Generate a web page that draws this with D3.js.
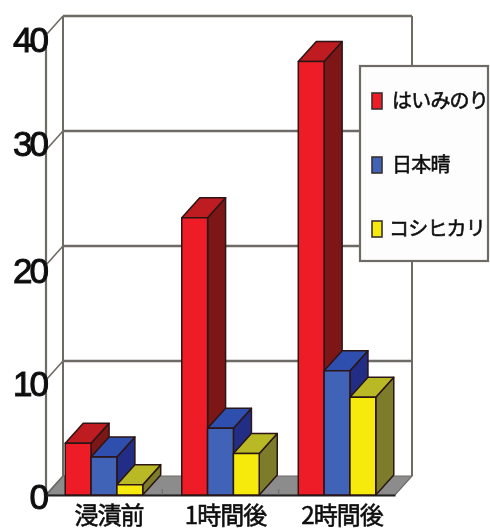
<!DOCTYPE html>
<html><head><meta charset="utf-8">
<script src="https://cdn.jsdelivr.net/npm/d3@7"></script>
<style>
html,body{margin:0;padding:0;background:#fff;overflow:hidden}
svg{display:block}
text{font-family:"Noto Sans CJK JP","Liberation Sans",sans-serif;fill:#111}
</style></head><body>
<svg id="c" width="490" height="531"></svg>
<script>
const categories = ["浸漬前","1時間後","2時間後"];
const seriesNames = ["はいみのり","日本晴","コシヒカリ"];
const hayami = [4.5, 24.1, 37.7];
const nipponbare = [3.3, 5.8, 10.8];
const koshihikari = [0.9, 3.6, 8.5];
const yTicks = [0,10,20,30,40];
const values = [hayami, nipponbare, koshihikari];
const front = ["#ee1c25","#3f63b8","#f6ea10"];
const topC = ["#bf1a20","#2f50ad","#b9b928"];
const side = ["#7d1315","#232f85","#7b7b2a"];

const svg = d3.select("#c");
const soft = svg.append("defs").append("filter").attr("id","soft")
  .attr("x","-5%").attr("y","-5%").attr("width","110%").attr("height","110%");
soft.append("feGaussianBlur").attr("stdDeviation",0.7);
const root = svg.append("g").attr("filter","url(#soft)");

const dx = 17, dy = -19, bx = 18, by = -20;
const x = d3.scaleBand().domain(categories).range([46,395]).paddingInner(0.335).paddingOuter(0.165);
const xs = d3.scaleBand().domain(d3.range(3)).range([0,x.bandwidth()]);
const y = d3.scaleLinear().domain([0,40]).range([495,35]);
const line = "#6e6a66";

// floor
root.append("polygon")
  .attr("points",[[x.range()[0],y(0)],[x.range()[0]+dx,y(0)+dy],[x.range()[1]+dx,y(0)+dy],[x.range()[1],y(0)]].join(" "))
  .attr("fill","#8c8c8c").attr("stroke",line).attr("stroke-width",1.2);

// walls and gridlines
yTicks.forEach(t=>{
  if(t>0) root.append("line").attr("x1",46+dx).attr("x2",395+dx).attr("y1",y(t)+dy).attr("y2",y(t)+dy).attr("stroke",line).attr("stroke-width",2.4);
  root.append("line").attr("x1",46).attr("x2",46+dx).attr("y1",y(t)).attr("y2",y(t)+dy).attr("stroke",line).attr("stroke-width",1.6);
});
root.append("line").attr("x1",46+dx).attr("x2",46+dx).attr("y1",y(40)+dy).attr("y2",y(0)+dy).attr("stroke",line).attr("stroke-width",2);
root.append("line").attr("x1",395+dx).attr("x2",395+dx).attr("y1",y(40)+dy).attr("y2",y(0)+dy).attr("stroke",line).attr("stroke-width",2);
root.append("line").attr("x1",46).attr("x2",46).attr("y1",y(40)).attr("y2",y(0)).attr("stroke",line).attr("stroke-width",2.2);

// axes
const ay = root.append("g").attr("transform","translate(46,0)")
  .call(d3.axisLeft(y).tickValues(yTicks).tickSize(0).tickPadding(0));
ay.select(".domain").remove();
ay.selectAll("text").style("font-family","'Liberation Sans'").attr("font-size",35)
  .attr("letter-spacing",-3).attr("stroke","#111").attr("stroke-width",1)
  .attr("dy",d=>({0:"0.39em",10:"0.44em",20:"0.5em",30:"0.16em",40:"0.47em"}[d]));

const ax = root.append("g").attr("transform","translate(0,495)")
  .call(d3.axisBottom(x).tickSize(0).tickPadding(12));
ax.select(".domain").attr("stroke","#222").attr("stroke-width",2);
ax.selectAll("text").attr("font-size",24).attr("letter-spacing",-1).attr("dx",5)
  .attr("stroke","#111").attr("stroke-width",0.6);
root.selectAll(".sep").data(categories.slice(1)).join("line").attr("class","sep")
  .attr("x1",d=>x(d)-x.step()*0.1675).attr("x2",d=>x(d)-x.step()*0.1675)
  .attr("y1",489).attr("y2",495).attr("stroke",line).attr("stroke-width",1);

// bars
const applyO = s => s.attr("stroke","#2a1414").attr("stroke-width",1.5).attr("stroke-linejoin","round");
categories.forEach((cat,ci)=>{
  values.forEach((vals,si)=>{
    const l = x(cat)+xs(si), r = l+xs.bandwidth(), t = y(vals[ci]), b = y(0);
    applyO(root.append("polygon").attr("points",[[r,t],[r+bx,t+by],[r+bx,b+by],[r,b]].join(" ")).attr("fill",side[si]));
    applyO(root.append("polygon").attr("points",[[l,t],[l+bx,t+by],[r+bx,t+by],[r,t]].join(" ")).attr("fill",topC[si]));
    applyO(root.append("rect").attr("x",l).attr("y",t).attr("width",r-l).attr("height",b-t).attr("fill",front[si]));
  });
});

// legend
root.append("rect").attr("x",360).attr("y",66).attr("width",128).attr("height",195)
  .attr("fill","#fdfdfe").attr("stroke",line).attr("stroke-width",2.2);
const legY = d3.scalePoint().domain(seriesNames).range([101,229]);
const lg = root.selectAll(".lg").data(seriesNames).join("g").attr("class","lg")
  .attr("transform",d=>`translate(0,${legY(d)})`);
lg.append("rect").attr("x",372).attr("y",-8).attr("width",10).attr("height",16)
  .attr("fill",(d,i)=>front[i]).attr("stroke","#3a3030").attr("stroke-width",1.6);
lg.append("text").attr("x",(d,i)=>i===2?389:392).attr("y",0).attr("dy","0.36em")
  .attr("font-size",20).attr("letter-spacing",-0.8).attr("stroke","#111").attr("stroke-width",0.6)
  .text(d=>d);
</script>
</body></html>
